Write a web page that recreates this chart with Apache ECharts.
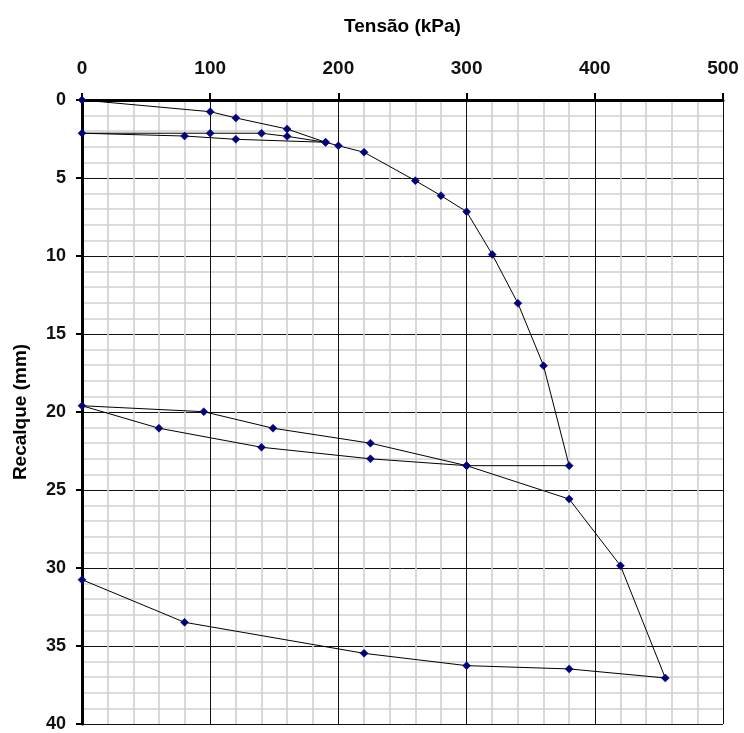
<!DOCTYPE html>
<html>
<head>
<meta charset="utf-8">
<script src="https://cdn.jsdelivr.net/npm/echarts@6/dist/echarts.min.js"></script>
<style>
  html, body { margin: 0; padding: 0; background: #ffffff; }
  #chart { width: 744px; height: 733px; }
</style>
</head>
<body>
<div id="chart"></div>
<script>
// Load path (in order of the test): stress in kPa, settlement in mm
const tensao = [0, 100, 120, 160, 190, 160, 140, 100, 0, 80, 120, 190, 200, 220, 260, 280, 300, 320, 340, 360, 380, 300, 225, 140, 60, 0, 95, 149, 225, 300, 380, 420, 455, 380, 300, 220, 80, 0];
const recalque = [0, 0.75, 1.15, 1.86, 2.71, 2.33, 2.13, 2.13, 2.13, 2.31, 2.52, 2.71, 2.93, 3.35, 5.17, 6.13, 7.16, 9.9, 13.03, 17.03, 23.44, 23.44, 23.0, 22.26, 21.04, 19.6, 19.98, 21.04, 22.0, 23.44, 25.58, 29.85, 37.05, 36.47, 36.26, 35.47, 33.48, 30.75];

const xName = 'Tensão (kPa)';
const yName = 'Recalque (mm)';

const data = tensao.map((t, i) => [t, recalque[i]]);

const font = '"Liberation Sans", Arial, sans-serif';
const chart = echarts.init(document.getElementById('chart'));
chart.setOption({
  animation: false,
  backgroundColor: '#ffffff',
  grid: { left: 82, right: 21, top: 100, bottom: 8, containLabel: false },
  xAxis: {
    type: 'value',
    position: 'top',
    min: 0, max: 500, interval: 100,
    name: xName,
    nameLocation: 'middle',
    nameGap: 64,
    nameTextStyle: { fontFamily: font, fontWeight: 'bold', fontSize: 19, color: '#000' },
    axisLine: { show: true, onZero: false, lineStyle: { color: '#000', width: 3 } },
    axisTick: { show: true, inside: false, length: 7, lineStyle: { color: '#000', width: 2 } },
    axisLabel: { fontFamily: font, fontWeight: 'bold', fontSize: 19, color: '#111', margin: 22 },
    minorTick: { show: false, splitNumber: 5 },
    splitLine: { show: true, lineStyle: { color: '#111', width: 1 } },
    minorSplitLine: { show: true, lineStyle: { color: '#d0d0d0', width: 1.6 } }
  },
  yAxis: {
    type: 'value',
    inverse: true,
    min: 0, max: 40, interval: 5,
    name: yName,
    nameLocation: 'middle',
    nameGap: 52,
    nameRotate: 90,
    nameTextStyle: { fontFamily: font, fontWeight: 'bold', fontSize: 19, color: '#000' },
    axisLine: { show: true, onZero: false, lineStyle: { color: '#000', width: 3 } },
    axisTick: { show: true, inside: false, length: 6, lineStyle: { color: '#000', width: 2 } },
    axisLabel: { fontFamily: font, fontWeight: 'bold', fontSize: 18, color: '#111', margin: 16 },
    minorTick: { show: false, splitNumber: 5 },
    splitLine: { show: true, lineStyle: { color: '#111', width: 1 } },
    minorSplitLine: { show: true, lineStyle: { color: '#d0d0d0', width: 1.6 } }
  },
  series: [{
    type: 'line',
    data: data,
    showSymbol: true,
    showAllSymbol: true,
    symbol: 'diamond',
    symbolSize: 8,
    itemStyle: { color: '#000080', borderColor: '#000060', borderWidth: 0.5 },
    lineStyle: { color: '#000', width: 1 },
    clip: false
  }]
});
</script>
</body>
</html>
